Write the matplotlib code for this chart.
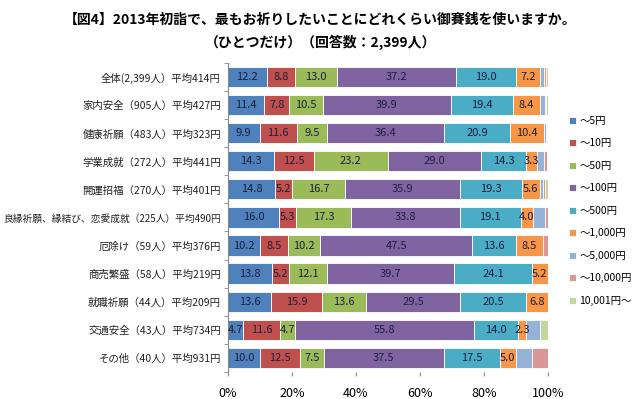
import numpy as np
import matplotlib
matplotlib.use("Agg")
import matplotlib.pyplot as plt

plt.rcParams['font.family'] = ['Noto Sans CJK JP', 'DejaVu Sans']

categories = [
    '全体(2,399人）平均414円',
    '家内安全（905人）平均427円',
    '健康祈願（483人）平均323円',
    '学業成就（272人）平均441円',
    '開運招福（270人）平均401円',
    '良縁祈願、縁結び、恋愛成就（225人）平均490円',
    '厄除け（59人）平均376円',
    '商売繁盛（58人）平均219円',
    '就職祈願（44人）平均209円',
    '交通安全（43人）平均734円',
    'その他（40人）平均931円',
]
series = ['～5円', '～10円', '～50円', '～100円', '～500円', '～1,000円',
          '～5,000円', '～10,000円', '10,001円～']

yen5 = [12.2, 11.4, 9.9, 14.3, 14.8, 16.0, 10.2, 13.8, 13.6, 4.7, 10.0]
yen10 = [8.8, 7.8, 11.6, 12.5, 5.2, 5.3, 8.5, 5.2, 15.9, 11.6, 12.5]
yen50 = [13.0, 10.5, 9.5, 23.2, 16.7, 17.3, 10.2, 12.1, 13.6, 4.7, 7.5]
yen100 = [37.2, 39.9, 36.4, 29.0, 35.9, 33.8, 47.5, 39.7, 29.5, 55.8, 37.5]
yen500 = [19.0, 19.4, 20.9, 14.3, 19.3, 19.1, 13.6, 24.1, 20.5, 14.0, 17.5]
yen1000 = [7.2, 8.4, 10.4, 3.3, 5.6, 4.0, 8.5, 5.2, 6.8, 2.3, 5.0]
yen5000 = [1.5, 1.6, 0.8, 2.2, 1.1, 3.6, 0.0, 0.0, 0.0, 4.6, 5.0]
yen10000 = [0.6, 0.5, 0.2, 0.8, 0.4, 0.9, 1.5, 0.0, 0.0, 0.0, 5.0]
yen_over = [0.5, 0.5, 0.3, 0.4, 1.0, 0.0, 0.0, 0.0, 0.0, 2.3, 0.0]

data = [yen5, yen10, yen50, yen100, yen500, yen1000, yen5000, yen10000, yen_over]
colors = ['#4F81BD', '#C0504D', '#9BBB59', '#8064A2', '#4BACC6', '#F79646',
          '#95B3D7', '#D99694', '#C3D69B']
n_labeled = 6

fig = plt.figure(figsize=(6.4, 3.99), dpi=100)
ax = fig.add_axes([0.356, 0.068, 0.5, 0.774])

y = np.arange(len(categories))
left = np.zeros(len(categories))
for i, (vals, c, name) in enumerate(zip(data, colors, series)):
    vals = np.array(vals)
    ax.barh(y, vals, left=left, height=0.72, color=c, edgecolor='white',
            linewidth=0.6, label=name)
    if i < n_labeled:
        for yy, l, v in zip(y, left, vals):
            if v > 0:
                ax.text(l + v / 2, yy, f'{v:.1f}', ha='center', va='center',
                        fontsize=8, color='#1F1F3F')
    left += vals

ax.set_xlim(0, 100)
ax.set_ylim(len(categories) - 0.5, -0.5)
ax.set_yticks(y)
ax.set_yticklabels(categories, fontsize=7.5, color='#222222')
# the long label needs a smaller size to fit on the left
ax.get_yticklabels()[5].set_fontsize(7)
ax.set_yticks(np.arange(len(categories) + 1) - 0.5, minor=True)
ax.tick_params(axis='y', which='major', length=0, pad=5)
ax.tick_params(axis='y', which='minor', length=3, color='#888888')
ax.set_xticks([0, 20, 40, 60, 80, 100])
ax.set_xticklabels(['0%', '20%', '40%', '60%', '80%', '100%'], fontsize=9)
ax.tick_params(axis='x', length=3, color='#888888', pad=8)
for s in ['top', 'right', 'bottom']:
    ax.spines[s].set_visible(False)
ax.spines['left'].set_color('#888888')

fig.text(0.5, 0.95, '【図4】2013年初詣で、最もお祈りしたいことにどれくらい御賽銭を使いますか。',
         ha='center', va='center', fontsize=10, fontweight='bold')
fig.text(0.5, 0.895, '（ひとつだけ）（回答数：2,399人）',
         ha='center', va='center', fontsize=10, fontweight='bold')

fig.legend(loc='upper left', bbox_to_anchor=(0.882, 0.72), frameon=False,
           fontsize=7.5, handlelength=0.7, handleheight=0.7, labelspacing=1.2,
           handletextpad=0.3, borderaxespad=0)

fig.savefig('out.png', dpi=100)
